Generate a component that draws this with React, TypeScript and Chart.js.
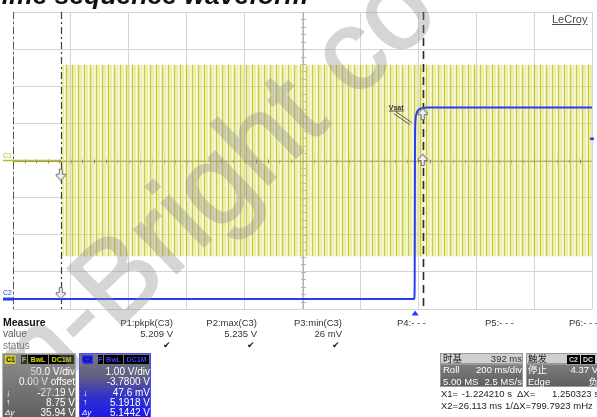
import React, { useEffect, useRef } from 'react';
import { Chart, registerables } from 'chart.js';
Chart.register(...registerables);

const W = 597;
const H = 417;

// ---- axes (oscilloscope settings) ----
const timeWindow = [-1.389, 0.611]; // s, roll mode, 200 ms/div
const timePerDiv = 0.2;
const c1Window = [-200, 200]; // C1: 50 V/div, 0 V offset
const c1PerDiv = 50;
const c2Window = [-0.22, 7.78]; // C2: 1.00 V/div, -3.78 V offset

// ---- C1 (yellow) ----
const c1IdleTimes = [-1.389, -1.222];
const c1IdleVolts = [0, 0];
const c1BurstTimes = [-1.222, 0.611];
const c1BurstMax = [129, 129];
const c1BurstMin = [-129, -129];

// ---- C2 (blue) ----
const c2Times = [-1.389, -0.003, -0.0015, -0.0005, 0.001, 0.004, 0.009, 0.016, 0.026, 0.04, 0.611];
const c2Volts = [0.048, 0.048, 0.5, 4.2, 4.85, 5.02, 5.12, 5.17, 5.19, 5.21, 5.21];

// ---- cursors / trigger ----
const cursorTimes = [-1.22421, 0.026113];
const c1CursorVolts = [-27.19, 8.75];
const c2CursorVolts = [0.0476, 5.1918];
const triggerTimes = [0];
const triggerLevels = [4.37];

// ---- measurement table ----
const measureNames = ['P1:pkpk(C3)', 'P2:max(C3)', 'P3:min(C3)', 'P4:- - -', 'P5:- - -', 'P6:- - -'];
const measureValues = ['5.209 V', '5.235 V', '26 mV', '', '', ''];
const measureOk = [true, true, true, false, false, false];

const c1Info = ['50.0 V/div', '0.00 V offset', '-27.19 V', '8.75 V', '35.94 V'];
const c2Info = ['1.00 V/div', '-3.7800 V', '47.6 mV', '5.1918 V', '5.1442 V'];
const timebaseInfo = [['时基', '392 ms'], ['Roll', '200 ms/div'], ['5.00 MS', '2.5 MS/s']];
const triggerInfo = [['触发', ''], ['停止', '4.37 V'], ['Edge', '负']];
const cursorReadout = [
  ['X1=', '-1.224210 s', 'ΔX=', '1.250323 s'],
  ['X2=', '26.113 ms', '1/ΔX=', '799.7923 mHz'],
];

const FONT = '"Liberation Sans", Arial, "Noto Sans CJK SC", sans-serif';

function makeStripePattern(canvas: HTMLCanvasElement) {
  const c = document.createElement('canvas');
  c.width = 6;
  c.height = 1;
  const g = c.getContext('2d')!;
  const cols = [
    'rgba(188,188,28,0.8)',
    'rgba(222,222,100,0.55)',
    'rgba(222,222,100,0.5)',
    'rgba(222,222,100,0.55)',
    'rgba(222,222,100,0.12)',
    'rgba(222,222,100,0.45)',
  ];
  cols.forEach((col, i) => {
    g.fillStyle = col;
    g.fillRect(i, 0, 1, 1);
  });
  return canvas.getContext('2d')!.createPattern(c, 'repeat')!;
}

function makeCursorIcon(pointDown: boolean) {
  const c = document.createElement('canvas');
  c.width = 12;
  c.height = 26;
  const g = c.getContext('2d')!;
  if (!pointDown) {
    g.translate(0, 26);
    g.scale(1, -1);
  }
  g.beginPath();
  g.moveTo(4.5, 1.5);
  g.lineTo(7.5, 1.5);
  g.lineTo(7.5, 6.5);
  g.lineTo(10.5, 6.5);
  g.lineTo(10.5, 8.5);
  g.lineTo(9.5, 8.5);
  g.lineTo(6, 13);
  g.lineTo(2.5, 8.5);
  g.lineTo(1.5, 8.5);
  g.lineTo(1.5, 6.5);
  g.lineTo(4.5, 6.5);
  g.closePath();
  g.fillStyle = '#f2f2f2';
  g.fill();
  g.strokeStyle = '#6b6b6b';
  g.lineWidth = 1;
  g.stroke();
  return c;
}

const scopeDecor = {
  id: 'scopeDecor',
  beforeDatasetsDraw(chart: any) {
    const { ctx, chartArea: a, scales } = chart;
    const x = scales.x;
    const y = scales.y;
    ctx.save();
    const cx = Math.round(x.getPixelForValue((timeWindow[0] + timeWindow[1]) / 2)) + 0.5;
    const cy = Math.round(y.getPixelForValue(0)) + 0.5;
    ctx.lineWidth = 1;
    ctx.strokeStyle = '#b4b4b4';
    ctx.beginPath();
    ctx.moveTo(cx, a.top);
    ctx.lineTo(cx, a.bottom);
    const vStep = (a.bottom - a.top) / 40;
    for (let i = 1; i < 40; i++) {
      const yy = Math.round(a.top + i * vStep) + 0.5;
      ctx.moveTo(cx - 2.5, yy);
      ctx.lineTo(cx + 2.5, yy);
    }
    ctx.stroke();
    ctx.strokeStyle = 'rgba(110,110,80,0.75)';
    ctx.beginPath();
    ctx.moveTo(a.left, cy);
    ctx.lineTo(a.right, cy);
    const hStep = (a.right - a.left) / 50;
    for (let i = 1; i < 50; i++) {
      const xx = Math.round(a.left + i * hStep) + 0.5;
      ctx.moveTo(xx, cy - 2);
      ctx.lineTo(xx, cy + 2);
    }
    ctx.stroke();
    // left roll edge
    ctx.strokeStyle = '#555';
    ctx.setLineDash([7, 3, 2, 3]);
    ctx.beginPath();
    ctx.moveTo(a.left + 0.5, a.top);
    ctx.lineTo(a.left + 0.5, a.bottom);
    ctx.stroke();
    ctx.restore();
  },
  beforeDatasetDraw(chart: any, args: any) {
    if (args.meta.label !== 'C2') return;
    const { ctx, chartArea: a, scales } = chart;
    ctx.save();
    cursorTimes.forEach((t, i) => {
      const px = Math.round(scales.x.getPixelForValue(t)) + 0.5;
      ctx.strokeStyle = i === 0 ? '#3c3c3c' : '#2a2a2a';
      ctx.lineWidth = i === 0 ? 1.2 : 1.6;
      ctx.setLineDash(i === 0 ? [7, 3, 2, 3] : [8, 5]);
      ctx.beginPath();
      ctx.moveTo(px, a.top);
      ctx.lineTo(px, a.bottom);
      ctx.stroke();
    });
    ctx.restore();
  },
  afterDraw(chart: any) {
    const { ctx, chartArea: a, scales } = chart;
    const x = scales.x;
    const y = scales.y;
    const y2 = scales.y2;
    ctx.save();
    // trigger time marker
    triggerTimes.forEach((t) => {
      const px = x.getPixelForValue(t);
      ctx.fillStyle = '#1f3cff';
      ctx.beginPath();
      ctx.moveTo(px, a.bottom + 1.5);
      ctx.lineTo(px + 3.5, a.bottom + 6.5);
      ctx.lineTo(px - 3.5, a.bottom + 6.5);
      ctx.closePath();
      ctx.fill();
    });
    // trigger level marker
    triggerLevels.forEach((v) => {
      const py = y2.getPixelForValue(v);
      ctx.fillStyle = '#2a3cf0';
      ctx.fillRect(a.right - 2, py - 1, 4, 2.5);
    });
    // channel ground markers
    const g1 = y.getPixelForValue(0);
    ctx.strokeStyle = '#bcbc28';
    ctx.lineWidth = 1.5;
    ctx.beginPath();
    ctx.moveTo(3, g1);
    ctx.lineTo(a.left, g1);
    ctx.stroke();
    ctx.font = '7px ' + FONT;
    ctx.fillStyle = '#b4b420';
    ctx.textBaseline = 'alphabetic';
    ctx.fillText('C1', 3, g1 - 3);
    const g2 = y2.getPixelForValue(c2Volts[0]);
    ctx.strokeStyle = '#2a3cf0';
    ctx.lineWidth = 3;
    ctx.beginPath();
    ctx.moveTo(3, g2);
    ctx.lineTo(a.left, g2);
    ctx.stroke();
    ctx.fillStyle = '#2a3cf0';
    ctx.fillText('C2', 3, g2 - 4);
    // Vsat annotation
    const ax = x.getPixelForValue(-0.008);
    const ay = y2.getPixelForValue(4.8);
    ctx.strokeStyle = '#555';
    ctx.lineWidth = 1;
    ctx.beginPath();
    ctx.moveTo(ax - 17, ay - 11);
    ctx.lineTo(ax - 1, ay);
    ctx.moveTo(ax - 19, ay - 9);
    ctx.lineTo(ax - 3, ay + 2);
    ctx.stroke();
    ctx.font = 'bold 7px ' + FONT;
    ctx.fillStyle = '#333';
    ctx.fillText('Vsat', ax - 24, ay - 13);
    ctx.fillRect(ax - 24, ay - 12, 15, 0.8);
    ctx.restore();
  },
};

const txt = (
  key: string,
  x: number,
  y: number,
  text: string,
  o: { right?: boolean; size?: number; color?: string; bold?: boolean; italic?: boolean } = {}
) => {
  const size = o.size ?? 10;
  return (
    <div
      key={key}
      style={{
        position: 'absolute',
        left: o.right ? undefined : x,
        right: o.right ? W - x : undefined,
        top: y - size * 0.6,
        fontSize: size,
        lineHeight: `${size * 1.2}px`,
        color: o.color ?? '#222',
        fontWeight: o.bold ? 'bold' : 'normal',
        fontStyle: o.italic ? 'italic' : 'normal',
        whiteSpace: 'nowrap',
      }}
    >
      {text}
    </div>
  );
};

const chip = (key: string, x: number, y: number, w: number, text: string, bg: string, color: string) => (
  <div
    key={key}
    style={{
      position: 'absolute',
      left: x,
      top: y,
      width: w,
      height: 9,
      background: bg,
      color,
      fontSize: 7,
      lineHeight: '9px',
      fontWeight: 'bold',
      textAlign: 'center',
      overflow: 'hidden',
      whiteSpace: 'nowrap',
    }}
  >
    {text}
  </div>
);

const box = (key: string, x: number, y: number, w: number, h: number, bg: string, border: string) => (
  <div
    key={key}
    style={{ position: 'absolute', left: x, top: y, width: w, height: h, background: bg, border, boxSizing: 'border-box' }}
  />
);

export default function App() {
  const ref = useRef<HTMLCanvasElement>(null);

  useEffect(() => {
    const canvas = ref.current!;
    const stripes = makeStripePattern(canvas);
    const iconDown = makeCursorIcon(true);
    const iconUp = makeCursorIcon(false);
    const chart = new Chart(canvas, {
      type: 'line',
      data: {
        datasets: [
          {
            label: 'C1 burst max',
            data: c1BurstTimes.map((t, i) => ({ x: t, y: c1BurstMax[i] })),
            borderWidth: 0,
            borderColor: 'rgba(0,0,0,0)',
            backgroundColor: stripes,
            fill: '+1',
            pointRadius: 0,
            yAxisID: 'y',
            order: 5,
          },
          {
            label: 'C1 burst min',
            data: c1BurstTimes.map((t, i) => ({ x: t, y: c1BurstMin[i] })),
            borderWidth: 0,
            borderColor: 'rgba(0,0,0,0)',
            pointRadius: 0,
            fill: false,
            yAxisID: 'y',
            order: 5,
          },
          {
            label: 'C1 idle',
            data: c1IdleTimes.map((t, i) => ({ x: t, y: c1IdleVolts[i] })),
            borderColor: '#bcbc28',
            borderWidth: 1.5,
            pointRadius: 0,
            fill: false,
            yAxisID: 'y',
            order: 4,
          },
          {
            label: 'C2',
            data: c2Times.map((t, i) => ({ x: t, y: c2Volts[i] })),
            borderColor: '#2a3cf0',
            borderWidth: 2,
            pointRadius: 0,
            fill: false,
            cubicInterpolationMode: 'monotone',
            yAxisID: 'y2',
            order: 2,
          },
          {
            label: 'C1 cursors',
            type: 'scatter',
            data: cursorTimes.map((t, i) => ({ x: t, y: c1CursorVolts[i] })),
            pointStyle: [iconDown, iconUp] as any,
            pointRadius: 3,
            showLine: false,
            yAxisID: 'y',
            order: 1,
          },
          {
            label: 'C2 cursors',
            type: 'scatter',
            data: cursorTimes.map((t, i) => ({ x: t, y: c2CursorVolts[i] })),
            pointStyle: [iconDown, iconUp] as any,
            pointRadius: 3,
            showLine: false,
            yAxisID: 'y2',
            order: 1,
          },
        ] as any,
      },
      options: {
        responsive: false,
        animation: false,
        devicePixelRatio: 1,
        events: [],
        layout: { padding: { left: 13, right: 2, top: 12, bottom: 108 } },
        plugins: { legend: { display: false }, tooltip: { enabled: false } },
        scales: {
          x: {
            type: 'linear',
            min: timeWindow[0],
            max: timeWindow[1],
            afterBuildTicks: (s: any) => {
              const n = Math.round((timeWindow[1] - timeWindow[0]) / timePerDiv);
              s.ticks = Array.from({ length: n + 1 }, (_, i) => ({ value: timeWindow[0] + i * timePerDiv }));
            },
            grid: { color: '#d4d4d4', drawTicks: false, lineWidth: 1 },
            ticks: { display: false },
            border: { display: false },
          },
          y: {
            type: 'linear',
            min: c1Window[0],
            max: c1Window[1],
            afterBuildTicks: (s: any) => {
              const n = Math.round((c1Window[1] - c1Window[0]) / c1PerDiv);
              s.ticks = Array.from({ length: n + 1 }, (_, i) => ({ value: c1Window[0] + i * c1PerDiv }));
            },
            grid: { color: '#d4d4d4', drawTicks: false, lineWidth: 1 },
            ticks: { display: false },
            border: { display: false },
          },
          y2: { type: 'linear', display: false, min: c2Window[0], max: c2Window[1] },
        },
      } as any,
      plugins: [scopeDecor],
    });
    return () => chart.destroy();
  }, []);

  const p13 = [173, 257, 342];
  const p46 = [397, 485, 569];
  const rowY = [371.5, 382, 393, 402.7, 412.7];
  // [x, rightAligned] for each readout cell
  const readoutPos: [number, boolean][][] = [
    [[441, false], [512, true], [517, false], [552, false]],
    [[441, false], [502, true], [505, false], [531, false]],
  ];

  return (
    <div
      style={{
        position: 'fixed',
        left: 0,
        top: 0,
        width: W,
        height: H,
        overflow: 'hidden',
        background: '#fff',
        fontFamily: FONT,
      }}
    >
      <canvas ref={ref} width={W} height={H} style={{ position: 'absolute', left: 0, top: 0, width: W, height: H }} />

      <div
        style={{
          position: 'absolute',
          left: -14,
          top: -18,
          fontSize: 26.5,
          lineHeight: '26px',
          fontWeight: 'bold',
          fontStyle: 'italic',
          color: '#111',
          whiteSpace: 'nowrap',
        }}
      >
        Time sequence waveform
      </div>
      <div
        style={{
          position: 'absolute',
          left: 552,
          top: 13,
          fontSize: 11,
          lineHeight: '13px',
          color: '#4a4a4a',
          textDecoration: 'underline',
        }}
      >
        LeCroy
      </div>

      {/* measure table */}
      {txt('mh', 3, 322.5, 'Measure', { bold: true, size: 10.5, color: '#111' })}
      {txt('mv', 3, 334, 'value', { size: 10, color: '#555' })}
      {txt('ms', 3, 345.5, 'status', { size: 10, color: '#777' })}
      {measureNames.map((n, i) =>
        i < 3
          ? txt('mn' + i, p13[i], 322.5, n, { right: true, size: 9.5, color: '#333' })
          : txt('mn' + i, p46[i - 3], 322.5, n, { size: 9.5, color: '#333' })
      )}
      {measureValues.map((v, i) => (v ? txt('mval' + i, p13[i], 334, v, { right: true, size: 9.5, color: '#333' }) : null))}
      {measureOk.map((ok, i) => (ok ? txt('mok' + i, p13[i] - 2, 345.5, '✔', { right: true, size: 9, color: '#222' }) : null))}

      {/* C1 box */}
      {box('c1b', 2, 353, 74, 70, 'linear-gradient(#8e8e8e, #5c5c5c)', '1px solid #b4b4b4')}
      {chip('c1t', 5, 355, 11, 'C1', '#d8d810', '#000')}
      {chip('c1f', 21, 355, 6, 'F', '#000', '#d8d810')}
      {chip('c1w', 28, 355, 20, 'BwL', '#000', '#d8d810')}
      {chip('c1d', 49, 355, 25, 'DC1M', '#000', '#d8d810')}
      {c1Info.map((s, i) => txt('c1i' + i, 75, rowY[i], s, { right: true, color: '#fff' }))}
      {txt('c1s1', 6, rowY[2], '↓', { color: '#fff', size: 9 })}
      {txt('c1s2', 6, rowY[3], '↑', { color: '#fff', size: 9 })}
      {txt('c1s3', 5, rowY[4], 'Δy', { color: '#fff', size: 8, italic: true })}

      {/* C2 box */}
      {box('c2b', 79, 353, 72, 70, 'linear-gradient(#78787f 0%, #5e5e84 35%, #3434c8 60%, #1414f4 100%)', '1px solid #4a4aff')}
      {chip('c2t', 82, 355, 11, 'C2', '#2b2bff', '#000040')}
      {chip('c2f', 98, 355, 5, 'F', '#000', '#3c3cff')}
      {chip('c2w', 104, 355, 19, 'BwL', '#000', '#3c3cff')}
      {chip('c2d', 124, 355, 25, 'DC1M', '#000', '#3c3cff')}
      {c2Info.map((s, i) => txt('c2i' + i, 150, rowY[i], s, { right: true, color: '#fff' }))}
      {txt('c2s1', 83, rowY[2], '↓', { color: '#fff', size: 9 })}
      {txt('c2s2', 83, rowY[3], '↑', { color: '#fff', size: 9 })}
      {txt('c2s3', 82, rowY[4], 'Δy', { color: '#fff', size: 8, italic: true })}

      {/* timebase box */}
      {box('tbh', 440, 353, 83, 11, '#cfcfcf', '1px solid #999')}
      {box('tbb', 440, 364, 83, 23, 'linear-gradient(#7c7c7c, #5f5f5f)', '1px solid #999')}
      {timebaseInfo.map((r, i) => [
        txt('tbl' + i, 443, 358.5 + i * 11.5, r[0], { color: i === 0 ? '#222' : '#fff', size: 9.5 }),
        txt('tbr' + i, 522, 358.5 + i * 11.5, r[1], { right: true, color: i === 0 ? '#333' : '#fff', size: 9.5 }),
      ])}

      {/* trigger box */}
      {box('trh', 526, 353, 75, 11, '#cfcfcf', '1px solid #999')}
      {box('trb', 526, 364, 75, 23, 'linear-gradient(#7c7c7c, #5f5f5f)', '1px solid #999')}
      {chip('trc', 567, 354.5, 13, 'C2', '#000', '#ddd')}
      {chip('trd', 581, 354.5, 14, 'DC', '#000', '#ddd')}
      {triggerInfo.map((r, i) => [
        txt('trl' + i, 528, 358.5 + i * 11.5, r[0], { color: i === 0 ? '#222' : '#fff', size: 9.5 }),
        r[1] ? txt('trr' + i, 598, 358.5 + i * 11.5, r[1], { right: true, color: '#fff', size: 9.5 }) : null,
      ])}

      {/* cursor readout */}
      {cursorReadout.map((r, i) => {
        const yy = 394 + i * 11.5;
        return r.map((s, j) =>
          txt('cr' + i + '_' + j, readoutPos[i][j][0], yy, s, { size: 9.5, right: readoutPos[i][j][1] })
        );
      })}

      {/* watermark */}
      <div
        style={{
          position: 'absolute',
          left: 42,
          top: 403 - 97,
          fontSize: 115,
          lineHeight: '115px',
          color: 'rgb(140,140,140)',
          WebkitTextStroke: '2px rgb(140,140,140)',
          opacity: 0.36,
          transform: 'rotate(-44deg)',
          transformOrigin: '0 97px',
          whiteSpace: 'nowrap',
          pointerEvents: 'none',
          fontFamily: '"Liberation Sans", Arial, sans-serif',
        }}
      >
        n-Bright co
      </div>
    </div>
  );
}
